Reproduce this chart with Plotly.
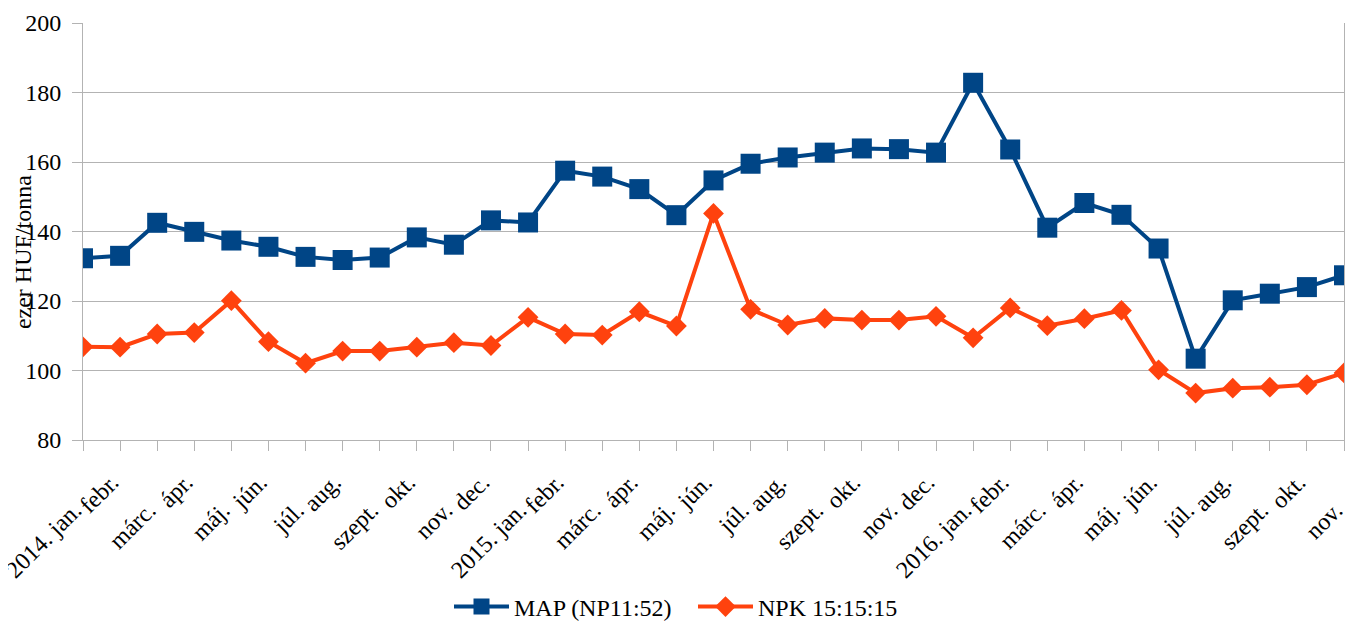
import plotly.graph_objects as go

categories = ["2014. jan.", "febr.", "márc.", "ápr.", "máj.", "jún.", "júl.", "aug.",
              "szept.", "okt.", "nov.", "dec.",
              "2015. jan.", "febr.", "márc.", "ápr.", "máj.", "jún.", "júl.", "aug.",
              "szept.", "okt.", "nov.", "dec.",
              "2016. jan.", "febr.", "márc.", "ápr.", "máj.", "jún.", "júl.", "aug.",
              "szept.", "okt.", "nov."]

map_values = [132.3, 133.0, 142.5, 139.9, 137.4, 135.6, 132.7, 131.8, 132.5, 138.3, 136.2, 143.2,
              142.6, 157.5, 155.8, 152.2, 144.7, 154.7, 159.5, 161.3, 162.7, 163.9, 163.7, 162.7,
              182.8, 163.6, 141.1, 148.2, 144.8, 135.1, 103.4, 120.2, 122.1, 124.0, 127.4]

npk_values = [106.8, 106.7, 110.5, 110.9, 120.1, 108.3, 102.1, 105.6, 105.6, 106.7, 108.0, 107.2,
              115.3, 110.5, 110.2, 116.9, 112.8, 145.2, 117.6, 113.1, 115.0, 114.5, 114.5, 115.6,
              109.4, 118.0, 112.9, 114.9, 117.3, 100.2, 93.5, 94.9, 95.2, 95.9, 99.3]

y_ticks = [80, 100, 120, 140, 160, 180, 200]

idx = list(range(len(categories)))
FONT = "Liberation Serif"
GRID = "#b3b3b3"
FS = 24

# the page body has an 8px margin, so the figure is sized/offset to compensate
W, H = 1346, 614
XR = [0, len(categories) - 1]
PAD = "\u00a0\u00a0"  # trailing padding nudges rotated labels so their ends sit at the ticks

fig = go.Figure()
fig.add_trace(go.Scatter(
    x=idx, y=map_values, name="MAP (NP11:52)", mode="lines+markers",
    line=dict(color="#004586", width=4),
    marker=dict(symbol="square", size=20, color="#004586"),
))
fig.add_trace(go.Scatter(
    x=idx, y=npk_values, name="NPK 15:15:15", mode="lines+markers",
    line=dict(color="#ff420e", width=4),
    marker=dict(symbol="diamond", size=16, color="#ff420e"),
))
# empty helper traces so the label-only x axes get drawn
for ax in ("x2", "x3"):
    fig.add_trace(go.Scatter(x=idx, y=map_values, xaxis=ax, mode="none",
                             showlegend=False, hoverinfo="skip"))

even_vals = [i for i in idx if i % 2 == 0]
odd_vals = [i for i in idx if i % 2 == 1]

label_axis = dict(
    overlaying="x", side="bottom", anchor="y",
    range=XR, tickmode="array",
    tickangle=-45, ticks="", showline=False, showgrid=False, zeroline=False,
    automargin=False, ticklabeloverflow="allow",
)

fig.update_layout(
    width=W, height=H,
    margin=dict(l=75, r=10, t=15, b=182),
    paper_bgcolor="white", plot_bgcolor="white",
    font=dict(family=FONT, size=FS, color="black"),
    showlegend=True,
    legend=dict(orientation="h", x=(449 - 8) / W, xanchor="left", xref="container",
                y=(H - 599) / H, yanchor="middle", yref="container",
                font=dict(size=FS), itemwidth=55, entrywidth=174, traceorder="normal"),
    xaxis=dict(
        range=XR, tickmode="array", tickvals=idx, showticklabels=False,
        ticks="outside", ticklen=10, tickcolor=GRID,
        showline=True, linecolor=GRID, linewidth=1, showgrid=False, zeroline=False,
        automargin=False,
    ),
    xaxis2=dict(label_axis, tickvals=even_vals,
                ticktext=[categories[i] + PAD for i in even_vals],
                ticklabelstandoff=42),
    xaxis3=dict(label_axis, tickvals=odd_vals,
                ticktext=[categories[i] + PAD for i in odd_vals],
                ticklabelstandoff=14),
    yaxis=dict(
        range=[80, 200], tickmode="array", tickvals=y_ticks,
        ticks="outside", ticklen=10, tickcolor=GRID,
        showline=True, linecolor=GRID, linewidth=1, mirror=True,
        showgrid=True, gridcolor=GRID, gridwidth=1, zeroline=False,
        ticklabelstandoff=6, automargin=False,
    ),
    annotations=[dict(text="ezer HUF/tonna", textangle=-90, showarrow=False,
                      xref="paper", yref="paper", x=-0.047, y=0.45,
                      xanchor="center", yanchor="middle", font=dict(size=FS))],
)

fig.write_html("out.html")
